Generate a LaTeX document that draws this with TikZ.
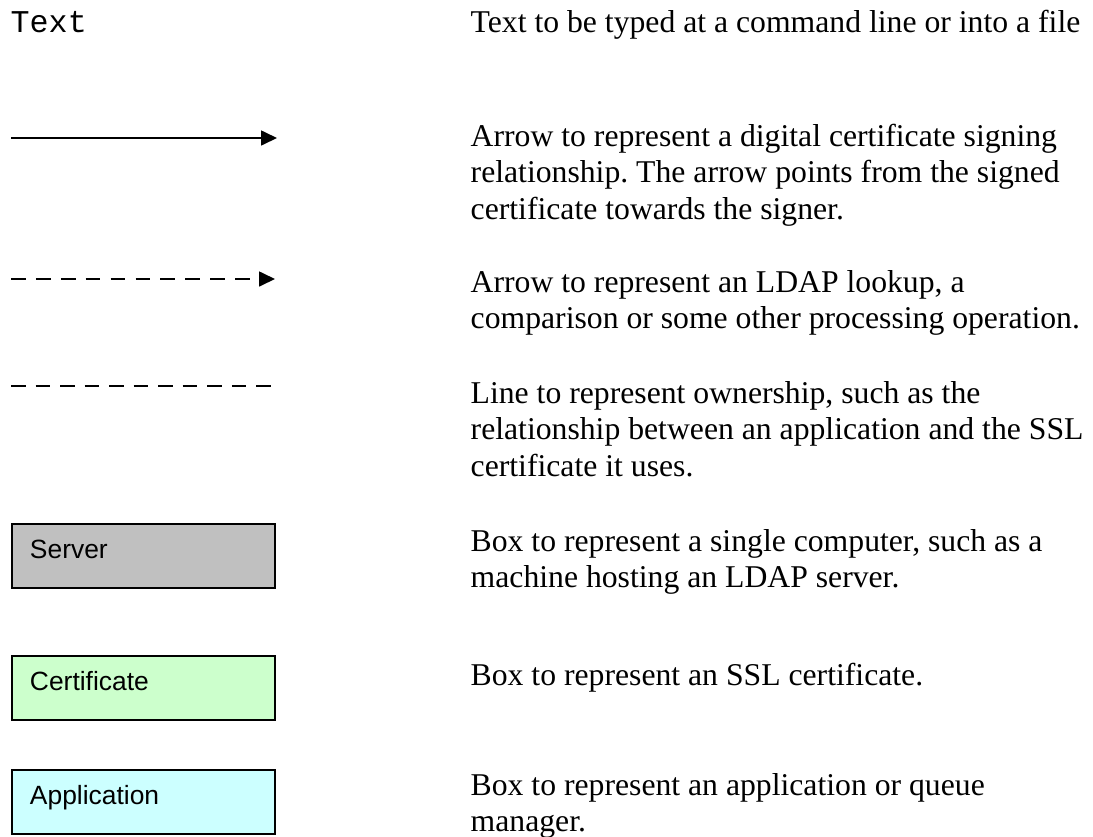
\documentclass[tikz,border=0pt]{standalone}
\usepackage{fontspec}
\setmainfont{Liberation Serif}
\newfontfamily\boxfont{Liberation Sans}
\newfontfamily\codefont{Liberation Mono}
\usetikzlibrary{arrows.meta}
\definecolor{servergray}{HTML}{C0C0C0}
\definecolor{certgreen}{HTML}{CCFFCC}
\definecolor{appcyan}{HTML}{CCFFFF}
\newcommand{\lines}[1]{\begin{tabular}[t]{@{}l@{}}#1\end{tabular}}
\frenchspacing
\begin{document}
\begin{tikzpicture}[x=1pt,y=-1pt,
  desc/.style={anchor=base west, inner sep=0pt,
    font=\fontsize{31.7}{36.5}\selectfont},
  code/.style={anchor=base west, inner sep=0pt,
    font=\codefont\fontsize{31.7}{36.5}\selectfont},
  legendline/.style={line width=1.7pt, line cap=butt},
  tip/.style={-{Triangle[length=16pt,width=15pt]}},
  dashedarrow/.style={dash pattern=on 14.7pt off 10.2pt},
  dashedline/.style={dash pattern=on 14.7pt off 9.83pt},
  legendbox/.style={draw=black, line width=2pt, rectangle,
    minimum width=263pt, minimum height=64pt,
    inner xsep=18pt, inner ysep=0pt, text width=227pt, align=left,
    text height=19pt, text depth=15pt,
    font=\boxfont\fontsize{26.4}{30}\selectfont}]
\useasboundingbox (0,0) rectangle (1093,836);

% monospaced sample and its description
\node[code] (sample) at (10.5,32) {Text};
\node[desc] (dsample) at (470.5,32) {Text to be typed at a command line or into a file};

% signing arrow
\coordinate (sa) at (11,138);
\coordinate (sb) at (277,138);
\draw[legendline, tip] (sa) -- (sb);
\node[desc] (dsign) at (470.5,146) {\lines{Arrow to represent a digital certificate signing\\
  relationship. The arrow points from the signed\\
  certificate towards the signer.}};

% lookup arrow
\coordinate (la) at (11,279);
\coordinate (lb) at (275,279);
\draw[legendline, dashedarrow, tip] (la) -- (lb);
\node[desc] (dlookup) at (470.5,292) {\lines{Arrow to represent an LDAP lookup, a\\
  comparison or some other processing operation.}};

% ownership line
\coordinate (oa) at (11,386);
\coordinate (ob) at (271,386);
\draw[legendline, dashedline] (oa) -- (ob);
\node[desc] (down) at (470.5,403) {\lines{Line to represent ownership, such as the\\
  relationship between an application and the SSL\\
  certificate it uses.}};

% boxes
\node[legendbox, fill=servergray] (server) at (143.5,556) {Server};
\node[desc] (dserver) at (470.5,551) {\lines{Box to represent a single computer, such as a\\
  machine hosting an LDAP server.}};

\node[legendbox, fill=certgreen] (cert) at (143.5,688) {Certificate};
\node[desc] (dcert) at (470.5,685) {Box to represent an SSL certificate.};

\node[legendbox, fill=appcyan] (app) at (143.5,802) {Application};
\node[desc] (dapp) at (470.5,795) {\lines{Box to represent an application or queue\\
  manager.}};
\end{tikzpicture}
\end{document}
